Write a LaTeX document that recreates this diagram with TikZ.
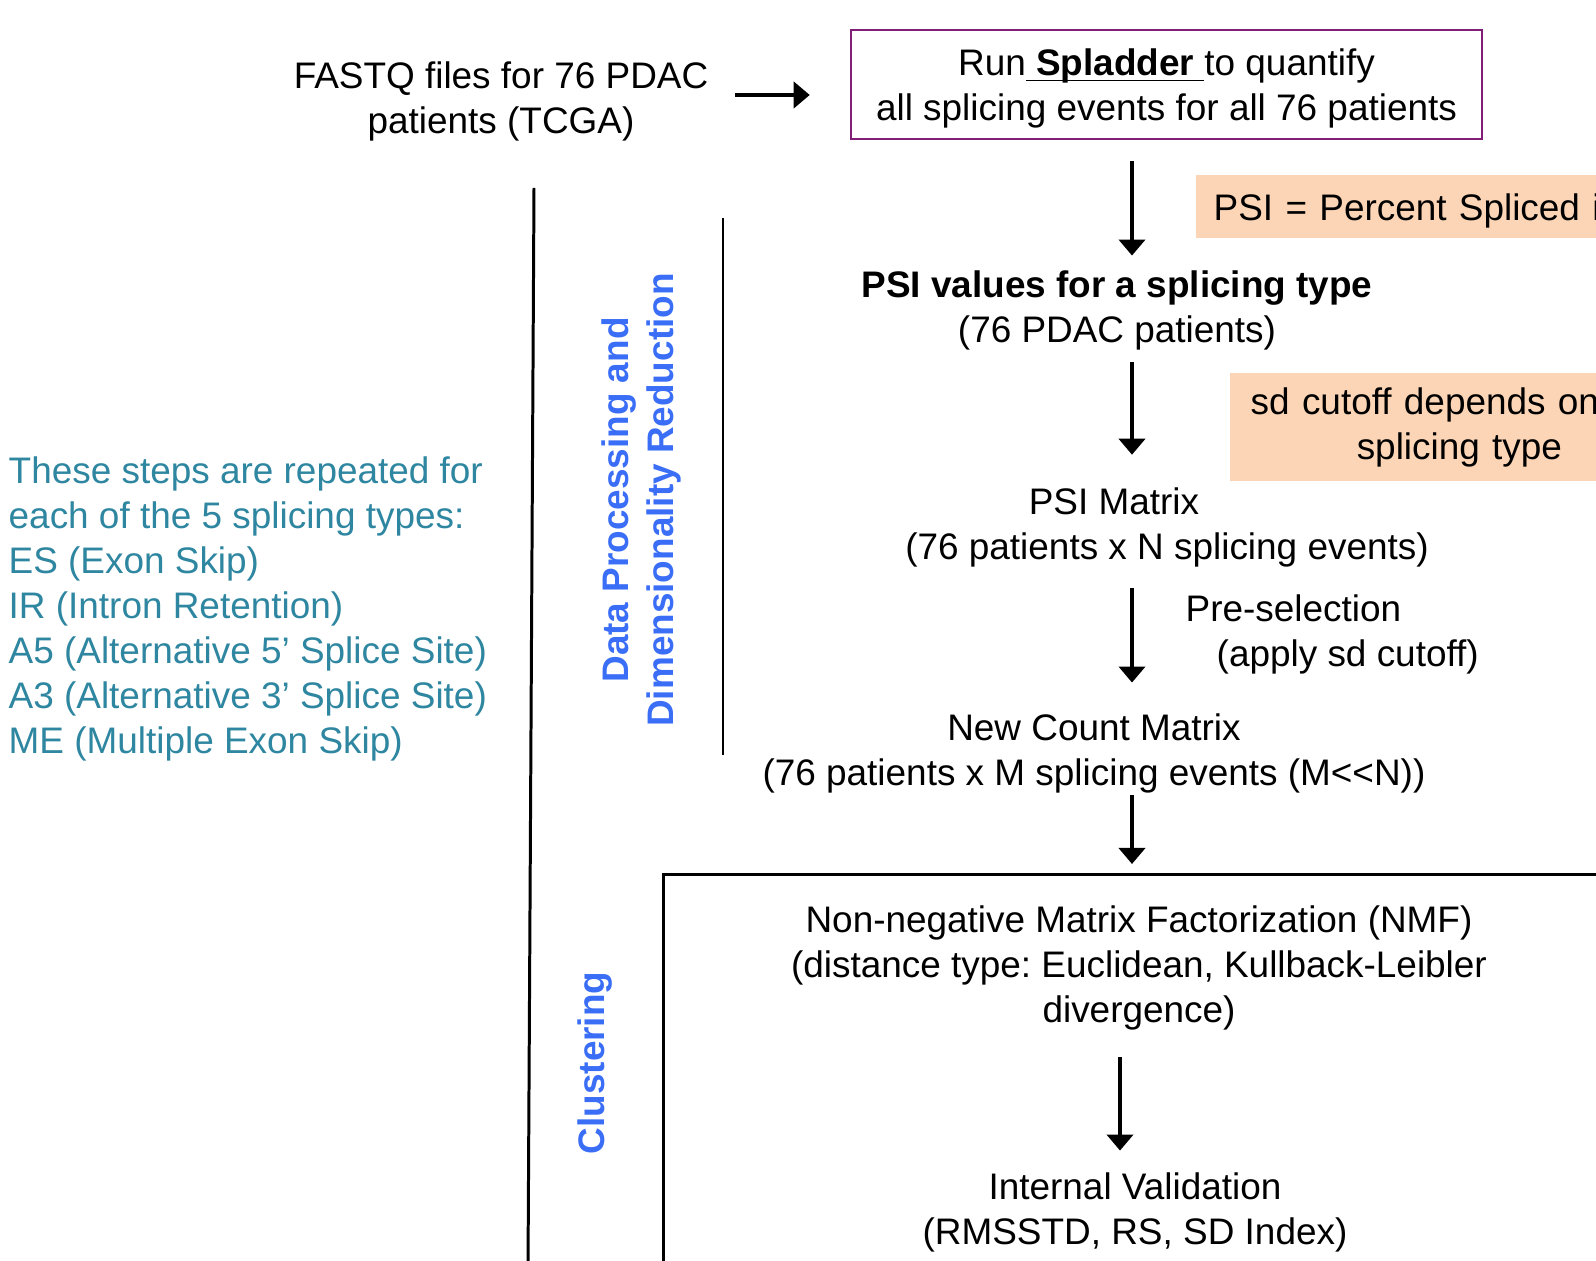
\documentclass[tikz,border=0pt]{standalone}
\usepackage{fontspec}
\setmainfont{Liberation Sans}
\usetikzlibrary{arrows.meta}

\definecolor{boxpurple}{RGB}{128,30,120}
\definecolor{notefill}{RGB}{251,213,181}
\definecolor{stepteal}{RGB}{46,134,160}
\definecolor{stageblue}{RGB}{59,110,246}

\begin{document}
\frenchspacing
\begin{tikzpicture}[x=0.01cm, y=-0.01cm,
    font=\fontsize{10.5pt}{12.8pt}\selectfont,
    every node/.style={inner sep=0pt},
    arr/.style={-{Triangle[length=0.16cm,width=0.26cm]}, line width=1.1pt},
    rule/.style={line width=0.85pt},
    note/.style={fill=notefill, anchor=west, align=left},
    stage/.style={rotate=90, text=stageblue, align=center,
        font=\fontsize{10.5pt}{12.8pt}\selectfont\bfseries}]
    \useasboundingbox (0,0) rectangle (1596,1261);
    \clip (0,0) rectangle (1596,1261);

    % columns the arrows run along
    \coordinate (colA) at (1132,0);
    \coordinate (colB) at (1120,0);
    \coordinate (toprow) at (0,95);

    % input and quantification
    \node[align=center] (fastq) at (501,101) {FASTQ files for 76 PDAC\\patients (TCGA)};
    \node[draw=boxpurple, line width=0.6pt, minimum width=6.31cm, minimum height=1.09cm]
        (spladderbox) at (1166.5,84.5) {};
    \node[align=center] (spladder) at (1166.5,88.5)
        {Run\underline{\smash{\ \textbf{Spladder}\ }}to quantify\\all splicing events for all 76 patients};
    \node[note, minimum height=0.63cm, text width=4.5cm, inner xsep=0.18cm] (psidef)
        at (1195,206.5) {\raisebox{-0.04cm}[\height][\depth]{PSI = Percent Spliced in}};

    % data processing
    \node[align=center] (psival) at (1117,310)
        {\textbf{PSI values for a splicing type}\\(76 PDAC patients)};
    \node[note, minimum height=1.08cm, text width=4cm, inner xsep=0.21cm] (sdnote)
        at (1229,427) {sd cutoff depends on\\\hspace*{1.06cm}splicing type};
    \node (psimat) at (1114,501) {PSI Matrix};
    \node (psimatdim) at (1167,550) {(76 patients x N splicing events)};
    \node[align=left, anchor=west] (presel) at (1185,634)
        {Pre-selection\\\hspace*{0.31cm}(apply sd cutoff)};
    \node[align=center] (newcount) at (1094,753)
        {New Count Matrix\\(76 patients x M splicing events (M<\kern0pt<N))};

    % clustering
    \node[draw, line width=0.85pt, minimum width=10cm, minimum height=5cm,
        anchor=north west] (clusterbox) at (662,873) {};
    \node[align=center] (nmf) at (1139,968)
        {Non-negative Matrix Factorization (NMF)\\(distance type: Euclidean, Kullback-Leibler\\divergence)};
    \node[align=center] (valid) at (1135,1212) {Internal Validation\\(RMSSTD, RS, SD Index)};

    % side labels
    \node[align=left, anchor=west, text=stepteal] (repeat) at (8,609)
        {These steps are repeated for\\each of the 5 splicing types:\\ES (Exon Skip)\\IR (Intron Retention)\\A5 (Alternative 5’ Splice Site)\\A3 (Alternative 3’ Splice Site)\\ME (Multiple Exon Skip)};
    \node[stage] (dimred) at (641,500) {Data Processing and\\Dimensionality Reduction};
    \node[stage] (clust) at (595,1063) {Clustering};

    % separators
    \coordinate (barAtop) at (534,188);
    \coordinate (barAbot) at (528,1270);
    \coordinate (barBtop) at (723,218);
    \coordinate (barBbot) at (723,755);
    \draw[rule] (barAtop) -- (barAbot);
    \draw[rule] (barBtop) -- (barBbot);

    % arrows
    \draw[arr, shorten <=0.26cm, shorten >=0.40cm] (fastq.east |- toprow) -- (spladderbox.west |- toprow);
    \draw[arr, shorten <=0.21cm, shorten >=0.14cm] (spladderbox.south -| colA) -- (psival.north -| colA);
    \draw[arr, shorten <=0.12cm, shorten >=0.32cm] (psival.south -| colA) -- (psimat.north -| colA);
    \draw[arr, shorten <=0.20cm, shorten >=0.30cm] (psimatdim.south -| colA) -- (newcount.north -| colA);
    \draw[arr, shorten <=0.02cm, shorten >=0.09cm] (newcount.south -| colA) -- (clusterbox.north -| colA);
    \draw[arr, shorten <=0.26cm, shorten >=0.21cm] (nmf.south -| colB) -- (valid.north -| colB);
\end{tikzpicture}
\end{document}
